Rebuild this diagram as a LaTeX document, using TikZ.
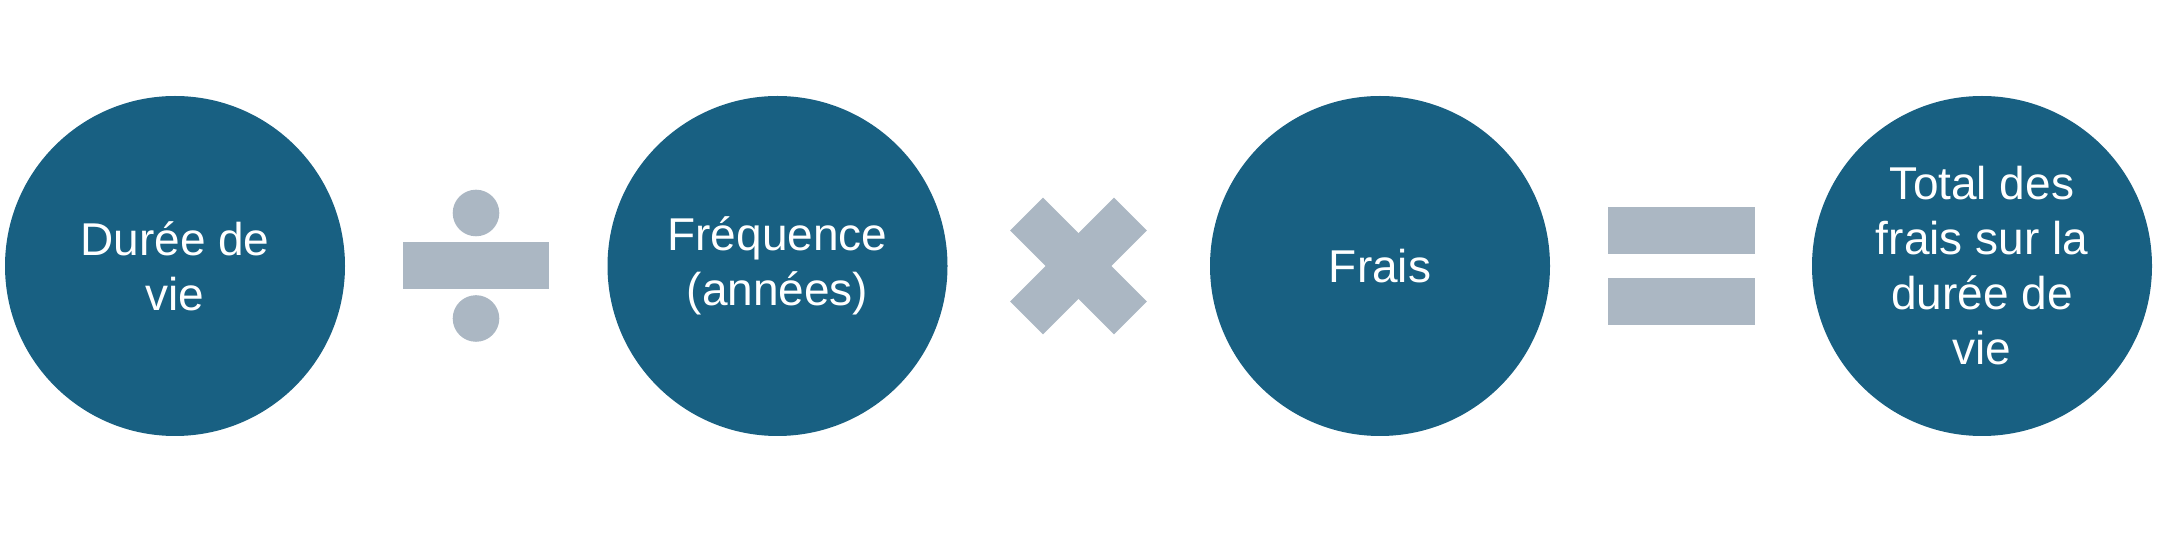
\documentclass[tikz,border=0pt]{standalone}
\usepackage{fontspec}
\setmainfont{Liberation Sans}
\definecolor{circblue}{HTML}{186082}
\definecolor{opgray}{HTML}{ABB7C3}
\tikzset{
  bubble/.style={circle, fill=circblue, draw=none, minimum size=340pt, inner sep=0pt,
    text=white, align=center, font=\fontsize{46}{55}\selectfont},
  opbar/.style={rectangle, fill=opgray, draw=none, inner sep=0pt},
  opdot/.style={circle, fill=opgray, draw=none, inner sep=0pt, minimum size=46.6pt}
}
\begin{document}
\begin{tikzpicture}[x=1pt,y=1pt]
\useasboundingbox (0,0) rectangle (2158,533);
% circles
\node[bubble] (a) at (175,267) {Durée de\\vie};
\node[bubble] (b) at (777.5,267) {Fréquence\\(années)};
\node[bubble] (c) at (1380,267) {Frais};
\node[bubble] (d) at (1982,267) {Total des\\frais sur la\\durée de\\vie};
% divide
\node[opbar, minimum width=146pt, minimum height=47pt] (divbar) at (476,267.5) {};
\node[opdot] (divtop) at (476,320) {};
\node[opdot] (divbot) at (476,214.5) {};
% times
\node[opbar, minimum width=147pt, minimum height=46.4pt, rotate=45] (timesa) at (1078.5,267) {};
\node[opbar, minimum width=147pt, minimum height=46.4pt, rotate=-45] (timesb) at (1078.5,267) {};
% equals
\node[opbar, minimum width=147pt, minimum height=47pt] (eqtop) at (1681,302.5) {};
\node[opbar, minimum width=147pt, minimum height=47pt] (eqbot) at (1681,231.5) {};
\end{tikzpicture}
\end{document}
